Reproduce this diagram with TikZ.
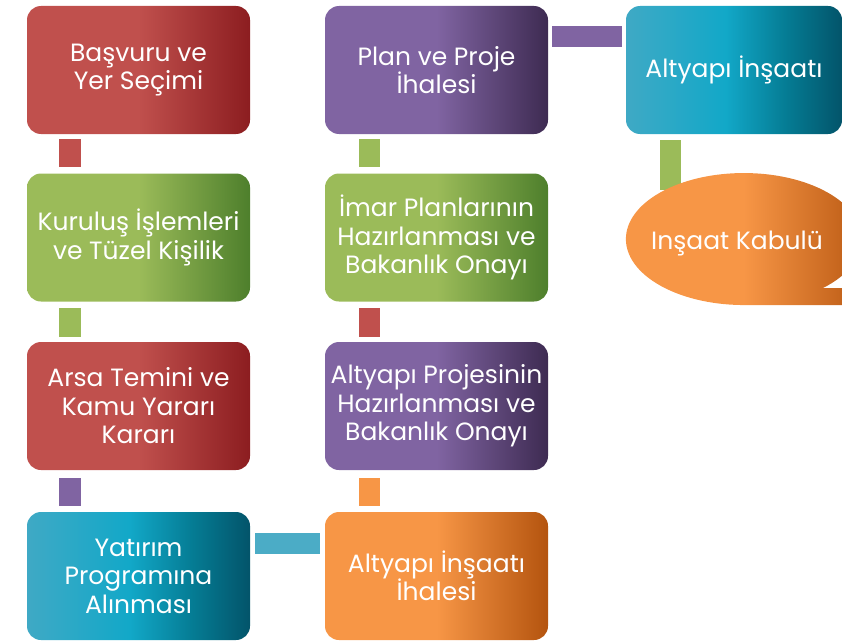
\documentclass[tikz,border=0pt]{standalone}
\usepackage{fontspec}
\setmainfont{Poppins}
\usetikzlibrary{calc}
\definecolor{redL}{HTML}{C0504D}
\definecolor{redD}{HTML}{8C1D20}
\definecolor{greenL}{HTML}{9BBB59}
\definecolor{greenD}{HTML}{4E7F2C}
\definecolor{purpleL}{HTML}{8064A2}
\definecolor{purpleD}{HTML}{3E2B52}
\definecolor{orangeL}{HTML}{F79646}
\definecolor{orangeD}{HTML}{B4540F}
\definecolor{tealL}{HTML}{3FA9C5}
\definecolor{tealM}{HTML}{12A8C8}
\definecolor{tealN}{HTML}{057C94}
\definecolor{tealD}{HTML}{03546A}
\definecolor{tealC}{HTML}{4BACC6}
\pgfdeclarehorizontalshading{redsh}{100bp}{color(0bp)=(redL); color(25bp)=(redL); color(50bp)=(redL); color(75bp)=(redD); color(100bp)=(redD)}
\pgfdeclarehorizontalshading{greensh}{100bp}{color(0bp)=(greenL); color(25bp)=(greenL); color(50bp)=(greenL); color(75bp)=(greenD); color(100bp)=(greenD)}
\pgfdeclarehorizontalshading{purplesh}{100bp}{color(0bp)=(purpleL); color(25bp)=(purpleL); color(50bp)=(purpleL); color(75bp)=(purpleD); color(100bp)=(purpleD)}
\pgfdeclarehorizontalshading{orangesh}{100bp}{color(0bp)=(orangeL); color(25bp)=(orangeL); color(50bp)=(orangeL); color(75bp)=(orangeD); color(100bp)=(orangeD)}
\pgfdeclarehorizontalshading{tealsh}{100bp}{color(0bp)=(tealL); color(25bp)=(tealL); color(48bp)=(tealM); color(62bp)=(tealN); color(75bp)=(tealD); color(100bp)=(tealD)}
\begin{document}
\begin{tikzpicture}[x=1pt,y=-1pt,
  box/.style={rectangle, rounded corners=14pt, minimum width=223pt, minimum height=128pt,
    inner sep=0pt, text=white, align=center, font=\fontsize{25}{28.5}\selectfont},
  lbl/.style={text=white, inner sep=0pt, font=\fontsize{25}{28.5}\selectfont}]
\useasboundingbox (0,0) rectangle (842,642);
\clip (0,0) rectangle (842,642);
% boxes
\node[box,shading=redsh] (a1) at (138.5,70) {Başvuru ve\\Yer Seçimi};
\node[box,shading=greensh] (a2) at (138.5,237.5) {Kuruluş İşlemleri\\ve Tüzel Kişilik};
\node[box,shading=redsh] (a3) at (138.5,406) {Arsa Temini ve\\Kamu Yararı\\Kararı};
\node[box,shading=tealsh] (a4) at (138.5,576) {Yatırım\\Programına\\Alınması};
\node[box,shading=orangesh] (b4) at (436.5,576) {Altyapı İnşaatı\\İhalesi};
\node[box,shading=purplesh] (b3) at (436.5,406) {Altyapı Projesinin\\Hazırlanması ve\\Bakanlık Onayı};
\node[box,shading=greensh] (b2) at (436.5,237.5) {İmar Planlarının\\Hazırlanması ve\\Bakanlık Onayı};
\node[box,shading=purplesh] (b1) at (436.5,70) {Plan ve Proje\\İhalesi};
\node[box,shading=tealsh,minimum width=216pt] (c1) at (734,70) {Altyapı İnşaatı};
% connectors
\fill[redL] ($(a1.south west)+(32,5)$) rectangle ($(a2.north west)+(54,-6)$);
\fill[greenL] ($(a2.south west)+(32,6)$) rectangle ($(a3.north west)+(54,-5)$);
\fill[purpleL] ($(a3.south west)+(32,8)$) rectangle ($(a4.north west)+(54,-6)$);
\fill[tealC] ($(a4.north east)+(5,21)$) rectangle ($(b4.north west)+(-5,42)$);
\fill[orangeL] ($(b3.south west)+(34,8)$) rectangle ($(b4.north west)+(55,-6)$);
\fill[redL] ($(b2.south west)+(34,6)$) rectangle ($(b3.north west)+(55,-5)$);
\fill[greenL] ($(b1.south west)+(34,5)$) rectangle ($(b2.north west)+(55,-6)$);
\fill[purpleL] ($(b1.north east)+(4,20)$) rectangle ($(c1.north west)+(-4,41)$);
\fill[greenL] ($(c1.south west)+(34,6)$) rectangle ($(c1.south west)+(55,56)$);
% callout bubble
\path[shading=orangesh] (850,288) -- (823,288)
  arc[start angle=47.9, end angle=-270, x radius=118, y radius=66]
  -- (850,305) -- cycle;
\node[lbl] (e1) at (737,243) {Inşaat Kabulü};
\end{tikzpicture}
\end{document}
